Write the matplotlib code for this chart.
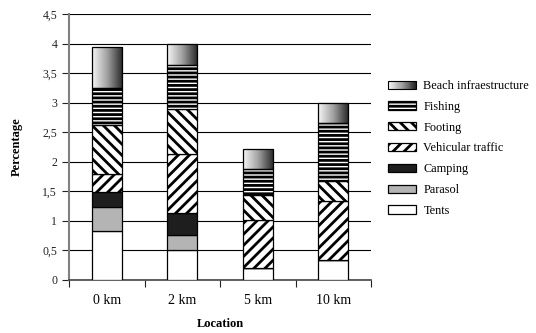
import numpy as np
import matplotlib.pyplot as plt
from matplotlib.patches import Rectangle
from matplotlib.legend_handler import HandlerBase
from matplotlib.colors import LinearSegmentedColormap
from matplotlib.ticker import FuncFormatter, FixedLocator

plt.rcParams['font.family'] = 'Liberation Serif'
plt.rcParams['hatch.linewidth'] = 2.0

locations = ['0 km', '2 km', '5 km', '10 km']
tents = [0.83, 0.51, 0.21, 0.34]
parasol = [0.41, 0.25, 0.0, 0.0]
camping = [0.25, 0.38, 0.0, 0.0]
vehicular = [0.31, 0.99, 0.81, 0.99]
footing = [0.82, 0.76, 0.41, 0.35]
fishing = [0.62, 0.75, 0.45, 0.98]
beach = [0.71, 0.36, 0.34, 0.34]

grad_cmap = LinearSegmentedColormap.from_list('g', ['#f6f6f6', '#a0a0a0', '#262626'])

# (label, values, facecolor, hatch)
series = [
    ('Tents', tents, 'white', None),
    ('Parasol', parasol, '#b4b4b4', None),
    ('Camping', camping, '#1e1e1e', None),
    ('Vehicular traffic', vehicular, 'white', '///'),
    ('Footing', footing, 'white', '\\\\\\'),
    ('Fishing', fishing, 'white', '----'),
    ('Beach infraestructure', beach, 'none', None),
]


class HandlerGradient(HandlerBase):
    def create_artists(self, legend, orig_handle, xdescent, ydescent,
                       width, height, fontsize, trans):
        arts = []
        n = 30
        for i in range(n):
            r = Rectangle((-xdescent + width * i / n, -ydescent), width / n + 0.3, height,
                          facecolor=grad_cmap(i / (n - 1)), edgecolor='none', transform=trans)
            arts.append(r)
        arts.append(Rectangle((-xdescent, -ydescent), width, height, facecolor='none',
                              edgecolor='black', linewidth=0.8, transform=trans))
        return arts


fig = plt.figure(figsize=(5.36, 3.33), dpi=100)
ax = fig.add_axes([69 / 536, 53 / 333, 302 / 536, 266 / 333])

x = np.arange(len(locations))
width = 0.4
bottom = np.zeros(len(locations))
handles = {}
for label, vals, fc, hatch in series:
    vals = np.array(vals)
    bars = ax.bar(x, vals, width, bottom=bottom, facecolor=fc, edgecolor='black',
                  linewidth=0.9, hatch=hatch, label=label, zorder=3)
    if label == 'Beach infraestructure':
        grad = np.linspace(0, 1, 100).reshape(1, -1)
        for b in bars:
            x0, y0 = b.get_x(), b.get_y()
            im = ax.imshow(grad, cmap=grad_cmap, aspect='auto', zorder=2.5,
                           extent=(x0, x0 + b.get_width(), y0, y0 + b.get_height()))
            im.set_clip_path(b)
    handles[label] = bars
    bottom += vals

ax.set_xlim(-0.5, len(locations) - 0.5)
ax.set_ylim(0, 4.5)
ax.set_yticks(np.arange(0, 4.51, 0.5))
ax.yaxis.set_major_formatter(FuncFormatter(lambda v, p: ('%g' % v).replace('.', ',')))
ax.grid(axis='y', color='black', linewidth=0.8, zorder=0)
ax.set_axisbelow(True)

ax.xaxis.set_major_locator(FixedLocator(np.arange(-0.5, len(locations), 1.0)))
ax.xaxis.set_minor_locator(FixedLocator(x))
ax.set_xticklabels([], minor=False)
ax.set_xticklabels(locations, minor=True)
ax.tick_params(axis='x', which='minor', length=0, pad=10)
ax.tick_params(axis='x', which='major', length=5, color='#555555')
ax.tick_params(axis='y', length=5, color='#555555')
ax.tick_params(labelsize=8.5, colors='#222222')

for s in ['top', 'right']:
    ax.spines[s].set_visible(False)
ax.spines['left'].set_color('#808080')
ax.spines['left'].set_linewidth(1.5)
ax.spines['bottom'].set_color('#444444')
ax.spines['bottom'].set_linewidth(1.2)

ax.set_xlabel('Location', fontweight='bold', fontsize=9, labelpad=8)
ax.set_ylabel('Percentage', fontweight='bold', fontsize=9, labelpad=14)

order = [s[0] for s in series][::-1]
leg = ax.legend([handles[l] for l in order], order, loc='upper left',
                bbox_to_anchor=(377 / 536, 1 - 69 / 333), bbox_transform=fig.transFigure,
                frameon=False, fontsize=8.8, labelspacing=0.72, handlelength=2.3,
                handleheight=0.65, handletextpad=0.6,
                handler_map={handles['Beach infraestructure']: HandlerGradient()})

fig.savefig('out.png', dpi=100)
